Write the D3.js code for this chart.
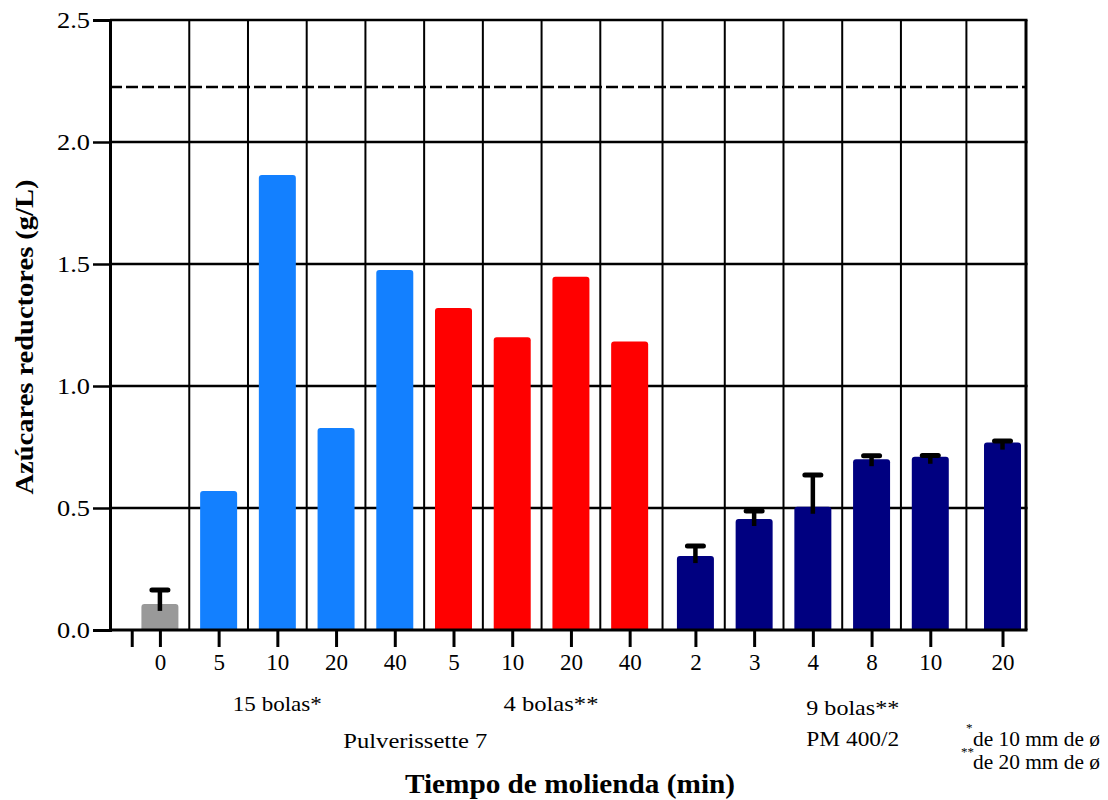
<html>
<head>
  <meta charset="utf-8">
  <title>Azúcares reductores</title>
  <style>
    body {
      margin: 0;
      padding: 0;
      background: white;
      font-family: "Liberation Serif", "Times New Roman", serif;
    }
    text {
      font-family: "Liberation Serif", serif;
      fill: black;
    }
    .label {
      font-size: 22px;
    }
    .title {
      font-weight: bold;
    }
  </style>
</head>
<body>
  <div id="chart"></div>

  <script src="https://cdnjs.cloudflare.com/ajax/libs/d3/7.8.5/d3.min.js"></script>
  <script>
    // data
    var categories = ["0", "5", "10", "20", "40", "5", "10", "20", "40", "2", "3", "4", "8", "10", "20"];
    var values = [0.107, 0.57, 1.865, 0.828, 1.475, 1.32, 1.20, 1.448, 1.182, 0.303, 0.455, 0.505, 0.70, 0.71, 0.768];
    var errors = [0.057, null, null, null, null, null, null, null, null, 0.041, 0.033, 0.13, 0.014, 0.005, 0.007];
    var series = ["control", "p7a", "p7a", "p7a", "p7a", "p7b", "p7b", "p7b", "p7b", "pm", "pm", "pm", "pm", "pm", "pm"];
    var yTicks = [0, 0.5, 1.0, 1.5, 2.0, 2.5];
    var refLine = 2.225;

    var colors = { control: "#999999", p7a: "#1380ff", p7b: "#ff0000", pm: "#000080" };

    var width = 1108, height = 800;
    var plotLeft = 110, plotRight = 1026, plotTop = 20, plotBottom = 630;

    // slot of each bar on the axis (a small gap before the PM 400/2 group, wider one before the last bar)
    var slot = categories.map(function(c, i) {
      if (i < 9) return i;
      if (i < 14) return i + 0.12;
      return i + 0.35;
    });

    var x = d3.scaleLinear().domain([-0.85, 14.75]).range([plotLeft, plotRight]);
    var y = d3.scaleLinear().domain([0, 2.5]).range([plotBottom, plotTop]);

    var svg = d3.select("#chart").append("svg")
      .attr("width", width)
      .attr("height", height);

    // vertical grid lines between bars
    var vgrid = [];
    for (var i = 0; i < slot.length - 1; i++) vgrid.push((slot[i] + slot[i + 1]) / 2);
    vgrid.push(14.75);
    svg.append("g").selectAll("line")
      .data(vgrid)
      .enter().append("line")
      .attr("x1", function(d) { return x(d); })
      .attr("x2", function(d) { return x(d); })
      .attr("y1", plotTop)
      .attr("y2", plotBottom)
      .attr("stroke", "black")
      .attr("stroke-width", function(d) { return d === 14.75 ? 3 : 2; });

    // horizontal grid lines
    svg.append("g").selectAll("line")
      .data(yTicks.slice(1))
      .enter().append("line")
      .attr("x1", plotLeft)
      .attr("x2", plotRight + 1.5)
      .attr("y1", function(d) { return y(d); })
      .attr("y2", function(d) { return y(d); })
      .attr("stroke", "black")
      .attr("stroke-width", 2.5);

    // dashed reference line
    svg.append("line")
      .attr("x1", plotLeft)
      .attr("x2", plotRight)
      .attr("y1", y(refLine))
      .attr("y2", y(refLine))
      .attr("stroke", "black")
      .attr("stroke-width", 2.5)
      .attr("stroke-dasharray", "12,4");

    // bars
    var barW = 37;
    svg.append("g").selectAll("path")
      .data(values)
      .enter().append("path")
      .attr("fill", function(d, i) { return colors[series[i]]; })
      .attr("d", function(d, i) {
        var x0 = x(slot[i]) - barW / 2, x1 = x0 + barW, y0 = y(d), r = 3;
        return "M" + x0 + "," + plotBottom + "V" + (y0 + r) + "Q" + x0 + "," + y0 + " " + (x0 + r) + "," + y0 +
          "H" + (x1 - r) + "Q" + x1 + "," + y0 + " " + x1 + "," + (y0 + r) + "V" + plotBottom + "Z";
      });

    // error bars (upper only)
    var eb = svg.append("g");
    values.forEach(function(d, i) {
      if (errors[i] == null) return;
      var cx = x(slot[i]);
      var ytop = y(d + errors[i]);
      eb.append("line")
        .attr("x1", cx).attr("x2", cx)
        .attr("y1", Math.max(y(d) + 7, ytop))
        .attr("y2", ytop)
        .attr("stroke", "black")
        .attr("stroke-width", 4.5);
      eb.append("line")
        .attr("x1", cx - 8).attr("x2", cx + 8)
        .attr("y1", ytop).attr("y2", ytop)
        .attr("stroke", "black")
        .attr("stroke-width", 5)
        .attr("stroke-linecap", "round");
    });

    // y axis
    var yAxis = svg.append("g")
      .attr("transform", "translate(" + plotLeft + ",0)")
      .call(d3.axisLeft(y).tickValues(yTicks).tickFormat(d3.format(".1f")).tickSize(17).tickPadding(3));
    yAxis.select(".domain").attr("stroke-width", 3);
    yAxis.selectAll(".tick line").attr("stroke-width", 2.5);
    yAxis.selectAll(".tick text")
      .attr("font-family", "Liberation Serif")
      .attr("font-size", 23)
      .attr("dy", "0.34em")
      .attr("textLength", 33)
      .attr("lengthAdjust", "spacingAndGlyphs");

    // x axis
    var xTickVals = [-0.48].concat(slot);
    var xAxis = svg.append("g")
      .attr("transform", "translate(0," + plotBottom + ")")
      .call(d3.axisBottom(x).tickValues(xTickVals)
        .tickFormat(function(d) { var k = slot.indexOf(d); return k < 0 ? "" : categories[k]; })
        .tickSize(17).tickSizeOuter(0).tickPadding(7));
    xAxis.select(".domain").attr("stroke-width", 3).attr("d", "M" + plotLeft + ",0H" + (plotRight + 1.5));
    xAxis.selectAll(".tick line").attr("stroke-width", 3);
    xAxis.selectAll(".tick text")
      .attr("font-family", "Liberation Serif")
      .attr("font-size", 23);

    // group labels (the source text is slightly wide, so widths are matched)
    var groupLabels = [
      { text: "15 bolas*", at: 2, y: 711, w: 89 },
      { text: "4 bolas**", at: 6.66, y: 711, w: 95 },
      { text: "Pulverissette 7", at: 4.35, y: 748, w: 144 },
      { text: "9 bolas**", at: 11.8, y: 715, w: 93 },
      { text: "PM 400/2", at: 11.8, y: 746, w: 93 }
    ];
    svg.append("g").selectAll("text")
      .data(groupLabels)
      .enter().append("text")
      .attr("class", "label")
      .attr("x", function(d) { return x(d.at); })
      .attr("y", function(d) { return d.y; })
      .attr("text-anchor", "middle")
      .attr("textLength", function(d) { return d.w; })
      .attr("lengthAdjust", "spacingAndGlyphs")
      .text(function(d) { return d.text; });

    // footnotes
    var notes = svg.append("g");
    notes.append("text").attr("x", 966).attr("y", 732).style("font-size", "13px").text("*");
    notes.append("text").attr("class", "label").attr("x", 973).attr("y", 746)
      .attr("textLength", 127).attr("lengthAdjust", "spacingAndGlyphs").text("de 10 mm de ø");
    notes.append("text").attr("x", 961).attr("y", 756).style("font-size", "13px").text("**");
    notes.append("text").attr("class", "label").attr("x", 973).attr("y", 769)
      .attr("textLength", 127).attr("lengthAdjust", "spacingAndGlyphs").text("de 20 mm de ø");

    // axis titles
    svg.append("text")
      .attr("class", "title")
      .attr("x", 570)
      .attr("y", 793)
      .attr("text-anchor", "middle")
      .style("font-size", "27px")
      .attr("textLength", 330)
      .attr("lengthAdjust", "spacingAndGlyphs")
      .text("Tiempo de molienda (min)");

    svg.append("text")
      .attr("class", "title")
      .attr("transform", "translate(33,337) rotate(-90)")
      .attr("text-anchor", "middle")
      .style("font-size", "26px")
      .attr("textLength", 315)
      .attr("lengthAdjust", "spacingAndGlyphs")
      .text("Azúcares reductores (g/L)");
  </script>
</body>
</html>
